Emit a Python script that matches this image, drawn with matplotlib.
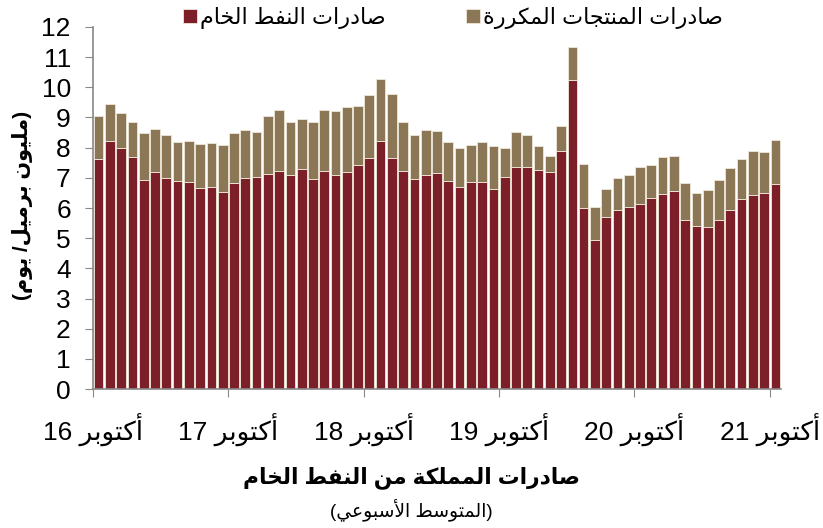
import re

import numpy as np
import matplotlib.pyplot as plt

plt.rcParams['font.family'] = ['Liberation Sans', 'DejaVu Sans']

# monthly values, Oct 2016 .. Oct 2021 (million bbl/day)
crude = [7.61, 8.22, 7.99, 7.69, 6.93, 7.20, 6.99, 6.90, 6.87, 6.67, 6.69, 6.52,
         6.84, 7.00, 7.02, 7.14, 7.23, 7.11, 7.29, 6.96, 7.22, 7.11, 7.20, 7.41,
         7.66, 8.21, 7.66, 7.22, 6.95, 7.11, 7.15, 6.90, 6.69, 6.87, 6.87, 6.63,
         7.03, 7.35, 7.35, 7.26, 7.18, 7.90, 10.23, 6.00, 4.94, 5.71, 5.94, 6.04,
         6.15, 6.33, 6.48, 6.57, 5.61, 5.41, 5.37, 5.62, 5.94, 6.30, 6.43, 6.50, 6.81]
refined = [1.45, 1.24, 1.15, 1.16, 1.54, 1.43, 1.44, 1.29, 1.36, 1.45, 1.46, 1.56,
           1.63, 1.58, 1.51, 1.92, 2.01, 1.74, 1.67, 1.89, 2.02, 2.09, 2.14, 1.98,
           2.10, 2.08, 2.13, 1.63, 1.47, 1.49, 1.40, 1.28, 1.30, 1.21, 1.33, 1.43,
           0.97, 1.18, 1.06, 0.78, 0.56, 0.82, 1.09, 1.45, 1.11, 0.91, 1.04, 1.04,
           1.21, 1.09, 1.21, 1.17, 1.22, 1.10, 1.24, 1.30, 1.37, 1.34, 1.45, 1.34, 1.44]
tick_labels = ['أكتوبر 16', 'أكتوبر 17', 'أكتوبر 18', 'أكتوبر 19', 'أكتوبر 20', 'أكتوبر 21']
crude_label = 'صادرات النفط الخام'
refined_label = 'صادرات المنتجات المكررة'
y_label = '(مليون برميل/ يوم)'
title = 'صادرات المملكة من النفط الخام'
subtitle = '(المتوسط الأسبوعي)'

# matplotlib does no arabic shaping, so do it by hand with presentation forms
BASE = {'ا': 0xFE8D, 'أ': 0xFE83, 'ة': 0xFE93, 'د': 0xFEA9, 'ر': 0xFEAD, 'و': 0xFEED,
        'ب': 0xFE8F, 'ت': 0xFE95, 'ج': 0xFE9D, 'خ': 0xFEA5, 'س': 0xFEB1, 'ص': 0xFEB9,
        'ط': 0xFEC1, 'ع': 0xFEC9, 'ف': 0xFED1, 'ك': 0xFED9, 'ل': 0xFEDD, 'م': 0xFEE1,
        'ن': 0xFEE5, 'ي': 0xFEF1}
RIGHT_ONLY = set('اأةدرو')


def shape(s):
    out = []
    i = 0
    while i < len(s):
        c = s[i]
        if c not in BASE:
            out.append(c)
            i += 1
            continue
        prev = i > 0 and s[i - 1] in BASE and s[i - 1] not in RIGHT_ONLY
        if c == 'ل' and i + 1 < len(s) and s[i + 1] in 'اأ':
            lig = 0xFEFB if s[i + 1] == 'ا' else 0xFEF7
            out.append(chr(lig + (1 if prev else 0)))
            i += 2
            continue
        nxt = c not in RIGHT_ONLY and i + 1 < len(s) and s[i + 1] in BASE
        code = BASE[c]
        if prev and nxt:
            code += 3
        elif nxt:
            code += 2
        elif prev:
            code += 1
        out.append(chr(code))
        i += 1
    return ''.join(out)


def ar(s):
    toks = re.findall(r'\d+|\D', shape(s))
    mirror = {'(': ')', ')': '('}
    return ''.join(mirror.get(t, t) for t in reversed(toks))


crude_color = '#7D1F29'
refined_color = '#8B7655'
edge = '#EFE8DA'

fig = plt.figure(figsize=(8.23, 5.28), dpi=100)
ax = fig.add_axes([0.113, 0.263, 0.836, 0.686])

x = np.arange(len(crude))
ax.bar(x, crude, width=0.86, color=crude_color, edgecolor=edge, linewidth=0.6,
       label=ar(crude_label))
ax.bar(x, refined, width=0.86, bottom=crude, color=refined_color, edgecolor=edge,
       linewidth=0.6, label=ar(refined_label))

ax.set_xlim(-0.5, len(crude) - 0.5)
ax.set_ylim(0, 12)
ax.set_yticks(range(0, 13))
ax.tick_params(axis='y', labelsize=19, length=6, color='#888888', pad=10)
ax.set_xticks(np.arange(len(tick_labels)) * 12 - 0.5)
ax.set_xticklabels([ar(t) for t in tick_labels])
ax.tick_params(axis='x', labelsize=19, length=6, color='#888888', pad=12)

for side in ['top', 'right']:
    ax.spines[side].set_visible(False)
for side in ['left', 'bottom']:
    ax.spines[side].set_color('#888888')
    ax.spines[side].set_linewidth(1.2)

fig.legend(loc='center left', bbox_to_anchor=(183 / 823, 0.966), ncol=2, frameon=False,
           fontsize=16, handlelength=0.62, handleheight=0.62, handletextpad=0.15,
           columnspacing=3.6, borderaxespad=0, borderpad=0)

fig.text(0.027, 0.61, ar(y_label), rotation=90, ha='center', va='center',
         fontsize=15, fontweight='bold')
fig.text(0.5, 0.095, ar(title), ha='center', va='center', fontsize=15.7, fontweight='bold')
fig.text(0.5, 0.034, ar(subtitle), ha='center', va='center', fontsize=13.5)

fig.savefig('out.png', dpi=100)
